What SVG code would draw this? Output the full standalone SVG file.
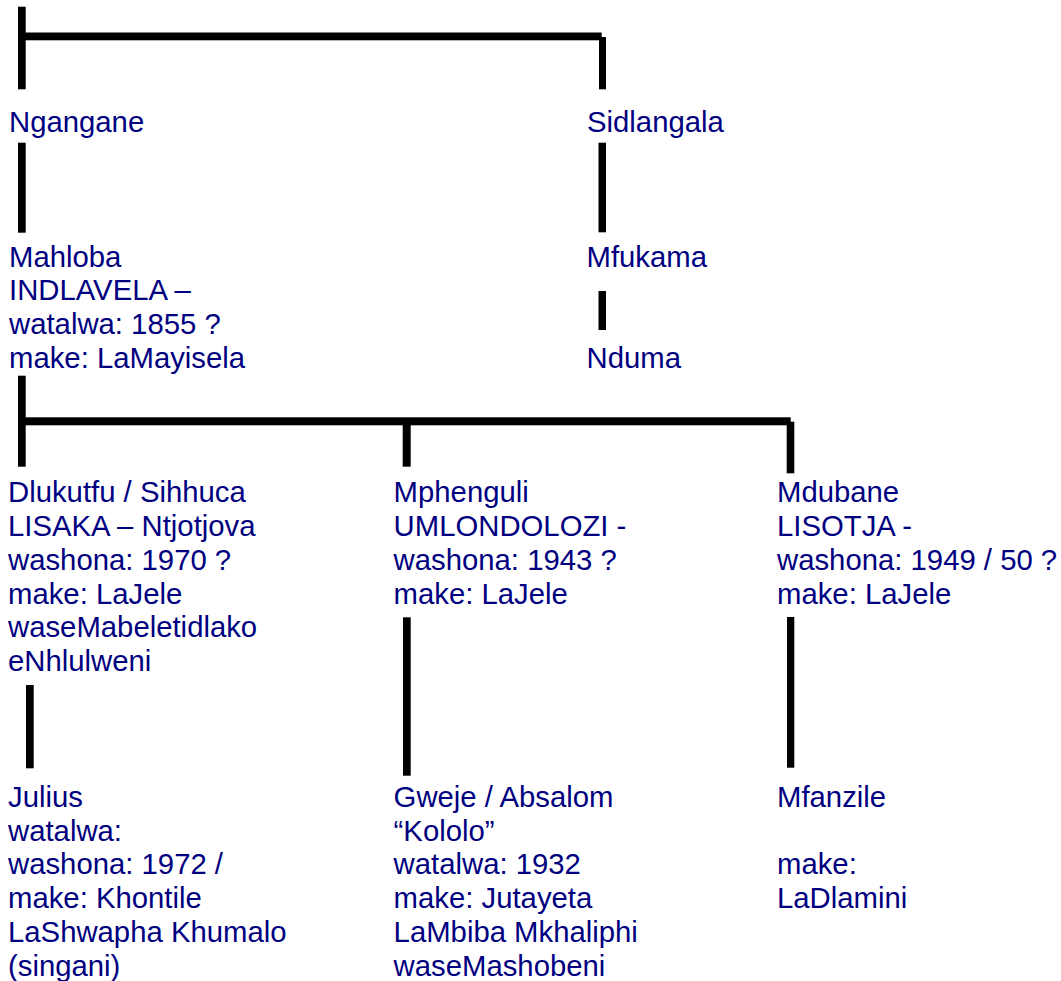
<svg xmlns="http://www.w3.org/2000/svg" width="1061" height="981" viewBox="0 0 1061 981">
<style>
text { font-family: "Liberation Sans", Arial, sans-serif; font-size: 29.3px; fill: #000080; }
.ln { fill: #000000; }
</style>
<rect x="0" y="0" width="1061" height="981" fill="#ffffff"/>
<g id="connectors">
  <rect class="ln" x="18" y="6.7" width="7.7" height="82.6"/>
  <rect class="ln" x="22" y="32.5" width="579.7" height="7.8"/>
  <rect class="ln" x="599" y="37" width="7" height="52.3"/>
  <rect class="ln" x="18" y="142.7" width="7.7" height="90"/>
  <rect class="ln" x="598.5" y="142.7" width="7.5" height="89.6"/>
  <rect class="ln" x="598.5" y="291" width="7.5" height="39"/>
  <rect class="ln" x="18" y="375.7" width="7.7" height="91"/>
  <rect class="ln" x="22" y="417.3" width="768.7" height="8"/>
  <rect class="ln" x="402.7" y="421" width="8" height="45.7"/>
  <rect class="ln" x="786.7" y="421.7" width="7.6" height="51.6"/>
  <rect class="ln" x="26" y="685" width="7.7" height="83.3"/>
  <rect class="ln" x="403" y="617.3" width="7.7" height="158.4"/>
  <rect class="ln" x="787" y="617" width="7.3" height="150.7"/>
</g>
<g id="ngangane"><text x="9" y="132.3">Ngangane</text></g>
<g id="sidlangala"><text x="587" y="132.3">Sidlangala</text></g>
<g id="mahloba">
  <text x="9" y="266.7">Mahloba</text>
  <text x="9" y="300.4">INDLAVELA –</text>
  <text x="9" y="334.1">watalwa: 1855 ?</text>
  <text x="9" y="367.8">make: LaMayisela</text>
</g>
<g id="mfukama"><text x="586.5" y="266.7">Mfukama</text></g>
<g id="nduma"><text x="586.5" y="367.8">Nduma</text></g>
<g id="dlukutfu">
  <text x="8" y="502.3">Dlukutfu / Sihhuca</text>
  <text x="8" y="536">LISAKA – Ntjotjova</text>
  <text x="8" y="569.8">washona: 1970 ?</text>
  <text x="8" y="603.6">make: LaJele</text>
  <text x="8" y="637.4">waseMabeletidlako</text>
  <text x="8" y="671.2">eNhlulweni</text>
</g>
<g id="mphenguli">
  <text x="393.6" y="502.3">Mphenguli</text>
  <text x="393.6" y="536">UMLONDOLOZI -</text>
  <text x="393.6" y="569.8">washona: 1943 ?</text>
  <text x="393.6" y="603.6">make: LaJele</text>
</g>
<g id="mdubane">
  <text x="777" y="502.3">Mdubane</text>
  <text x="777" y="536">LISOTJA -</text>
  <text x="777" y="569.8">washona: 1949 / 50 ?</text>
  <text x="777" y="603.6">make: LaJele</text>
</g>
<g id="julius">
  <text x="8" y="806.7">Julius</text>
  <text x="8" y="840.5">watalwa:</text>
  <text x="8" y="874.3">washona: 1972 /</text>
  <text x="8" y="908.1">make: Khontile</text>
  <text x="8" y="941.9">LaShwapha Khumalo</text>
  <text x="8" y="975.7">(singani)</text>
</g>
<g id="gweje">
  <text x="393.6" y="806.7">Gweje / Absalom</text>
  <text x="393.6" y="840.5">“Kololo”</text>
  <text x="393.6" y="874.3">watalwa: 1932</text>
  <text x="393.6" y="908.1">make: Jutayeta</text>
  <text x="393.6" y="941.9">LaMbiba Mkhaliphi</text>
  <text x="393.6" y="975.7">waseMashobeni</text>
</g>
<g id="mfanzile">
  <text x="777" y="806.7">Mfanzile</text>
  <text x="777" y="874.3">make:</text>
  <text x="777" y="908.1">LaDlamini</text>
</g>
</svg>
